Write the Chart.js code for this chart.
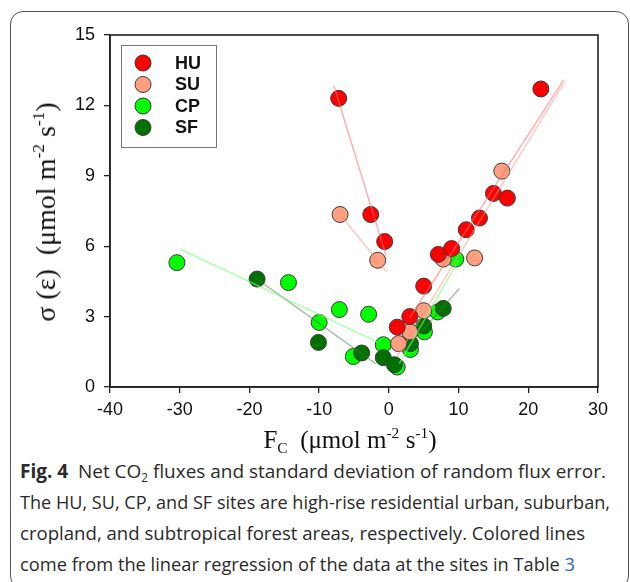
<!DOCTYPE html>
<html>
<head>
<meta charset="utf-8">
<script src="https://cdn.jsdelivr.net/npm/chart.js@4.4.1/dist/chart.umd.min.js"></script>
<style>
  html, body { margin: 0; padding: 0; background: #fff; }
  body { width: 630px; height: 582px; position: relative; overflow: hidden; }
  #frame { position: absolute; left: 10px; top: 11px; width: 619px; height: 578px;
           border: 1.3px solid #555; border-radius: 13px; box-sizing: border-box; }
  #chart { position: absolute; left: 0; top: 0; }
  .ytitle { position: absolute; left: 46px; top: 212px; transform: translate(-50%, -50%) rotate(-90deg);
            font-family: "Liberation Serif", "Times New Roman", serif; font-size: 28px; color: #111; white-space: nowrap; }
  .xtitle { position: absolute; left: 350px; top: 440px; transform: translate(-50%, -50%);
            font-family: "Liberation Serif", "Times New Roman", serif; font-size: 25px; color: #111; white-space: nowrap; }
  sup { font-size: 62%; vertical-align: 0.65em; line-height: 0; }
  sub { font-size: 62%; vertical-align: -0.3em; line-height: 0; }
  .cap { position: absolute; left: 20px; font-family: "Open Sans", sans-serif; font-size: 19px; color: #2a2a2a;
         white-space: nowrap; transform-origin: 0 50%; line-height: 31px; }
  .cap b { font-weight: 700; }
  .cap .ref { color: #2a64c5; }
</style>
</head>
<body>
<div id="frame"></div>
<canvas id="chart" width="630" height="455"></canvas>
<div class="ytitle">σ (ε) &nbsp;(μmol m<sup>-2</sup> s<sup>-1</sup>)</div>
<div class="xtitle">F<sub>C</sub>&nbsp; (μmol m<sup>-2</sup> s<sup>-1</sup>)</div>
<div class="cap" id="cap1" style="top:456px"><b>Fig. 4</b>&nbsp; Net CO<sub>2</sub> fluxes and standard deviation of random flux error.</div>
<div class="cap" id="cap2" style="top:487px">The HU, SU, CP, and SF sites are high-rise residential urban, suburban,</div>
<div class="cap" id="cap3" style="top:518px">cropland, and subtropical forest areas, respectively. Colored lines</div>
<div class="cap" id="cap4" style="top:549px">come from the linear regression of the data at the sites in Table <span class="ref">3</span></div>
<script>
// Site data: net CO2 flux (x) vs sigma of random flux error (y)
const huX = [-7.2, -2.6, -0.6, 1.2, 3.0, 5.0, 7.1, 9.0, 11.1, 13.0, 15.0, 17.0, 21.8];
const huY = [12.3, 7.35, 6.2, 2.55, 3.0, 4.3, 5.65, 5.9, 6.7, 7.2, 8.25, 8.05, 12.7];
const suX = [-7.0, -1.6, 1.4, 3.0, 5.0, 7.8, 12.3, 16.2];
const suY = [7.35, 5.4, 1.85, 2.35, 3.25, 5.45, 5.5, 9.2];
const cpX = [-30.4, -14.4, -10.0, -7.1, -5.1, -2.9, -0.8, 1.2, 3.1, 5.1, 7.0, 9.6];
const cpY = [5.3, 4.45, 2.75, 3.3, 1.3, 3.1, 1.8, 0.85, 1.6, 2.35, 3.2, 5.45];
const sfX = [-18.9, -10.1, -3.9, -0.8, 0.8, 3.1, 5.0, 7.8];
const sfY = [4.6, 1.9, 1.45, 1.25, 0.95, 1.85, 2.6, 3.35];

// Regression line end points (negative and positive flux branches)
const huFitNegX = [-7.9, -0.4], huFitNegY = [12.85, 5.6];
const huFitPosX = [3.0, 25.1], huFitPosY = [2.95, 13.1];
const suFitNegX = [-7.0, -0.3], suFitNegY = [7.35, 4.9];
const suFitPosX = [1.2, 25.2], suFitPosY = [1.3, 13.0];
const cpFitNegX = [-29.9, -1.5], cpFitNegY = [5.87, 1.9];
const cpFitPosX = [1.5, 10.0], cpFitPosY = [1.0, 5.4];
const sfFitNegX = [-18.9, -1.9], sfFitNegY = [4.6, 1.0];
const sfFitPosX = [2.0, 10.1], sfFitPosY = [1.45, 4.2];

const siteNames = ['HU', 'SU', 'CP', 'SF'];
const siteColors = ['#ff0000', '#ff9f80', '#00ff00', '#007000'];
const fitColors = ['rgba(255,110,110,0.55)', 'rgba(255,150,130,0.5)', 'rgba(120,255,120,0.6)', 'rgba(60,120,60,0.45)'];

const xTicks = [-40, -30, -20, -10, 0, 10, 20, 30];
const yTicks = [0, 3, 6, 9, 12, 15];

function pts(xs, ys) {
    return xs.map((x, i) => ({ x: x, y: ys[i] }));
}

function fitSet(xs, ys, color) {
    return {
        type: 'line', data: pts(xs, ys), borderColor: color, borderWidth: 1.5,
        pointRadius: 0, fill: false, showLine: true
    };
}

function siteSet(name, xs, ys, color) {
    return {
        label: name, data: pts(xs, ys), backgroundColor: color, borderColor: '#3c3c3c',
        borderWidth: 1, pointRadius: 8, pointHoverRadius: 8
    };
}

// frame around the plot + legend box
const boxPlugin = {
    id: 'boxPlugin',
    afterDraw(chart) {
        const ctx = chart.ctx;
        const a = chart.chartArea;
        ctx.save();
        ctx.strokeStyle = '#222';
        ctx.lineWidth = 1.6;
        ctx.strokeRect(a.left, a.top, a.right - a.left, a.bottom - a.top);

        const lx = a.left + 11, ly = a.top + 10;
        ctx.fillStyle = '#fff';
        ctx.fillRect(lx, ly, 95, 102);
        ctx.strokeStyle = '#777';
        ctx.lineWidth = 1;
        ctx.strokeRect(lx + 0.5, ly + 0.5, 95, 102);
        ctx.font = 'bold 18px "Liberation Sans", Arial, sans-serif';
        ctx.textBaseline = 'middle';
        siteNames.forEach((name, i) => {
            const cy = ly + 18 + i * 21.5;
            ctx.beginPath();
            ctx.arc(lx + 22, cy, 8, 0, Math.PI * 2);
            ctx.fillStyle = siteColors[i];
            ctx.fill();
            ctx.strokeStyle = '#3c3c3c';
            ctx.lineWidth = 1;
            ctx.stroke();
            ctx.fillStyle = '#111';
            ctx.fillText(name, lx + 54, cy + 1);
        });
        ctx.restore();
    }
};

const ctx = document.getElementById('chart').getContext('2d');
new Chart(ctx, {
    type: 'scatter',
    data: {
        datasets: [
            fitSet(huFitNegX, huFitNegY, fitColors[0]),
            fitSet(huFitPosX, huFitPosY, fitColors[0]),
            fitSet(suFitNegX, suFitNegY, fitColors[1]),
            fitSet(suFitPosX, suFitPosY, fitColors[1]),
            fitSet(cpFitNegX, cpFitNegY, fitColors[2]),
            fitSet(cpFitPosX, cpFitPosY, fitColors[2]),
            fitSet(sfFitNegX, sfFitNegY, fitColors[3]),
            fitSet(sfFitPosX, sfFitPosY, fitColors[3]),
            siteSet('HU', huX, huY, siteColors[0]),
            siteSet('SU', suX, suY, siteColors[1]),
            siteSet('SF', sfX, sfY, siteColors[3]),
            siteSet('CP', cpX, cpY, siteColors[2])
        ]
    },
    options: {
        responsive: false,
        animation: false,
        layout: { padding: { left: 0, top: 35, right: 32, bottom: 0 } },
        plugins: { legend: { display: false }, tooltip: { enabled: false } },
        scales: {
            x: {
                type: 'linear', min: -40, max: 30,
                afterBuildTicks: s => { s.ticks = xTicks.map(v => ({ value: v })); },
                afterFit: s => { s.height = 68; },
                grid: { drawOnChartArea: false, drawTicks: true, tickLength: 6, color: '#222', lineWidth: 1.3 },
                border: { display: true, color: '#222', width: 1.6 },
                ticks: { font: { family: '"Liberation Sans", Arial, sans-serif', size: 18 }, color: '#111',
                         padding: 6, maxRotation: 0, autoSkip: false }
            },
            y: {
                type: 'linear', min: 0, max: 15,
                afterBuildTicks: s => { s.ticks = yTicks.map(v => ({ value: v })); },
                afterFit: s => { s.width = 110; },
                grid: { drawOnChartArea: false, drawTicks: true, tickLength: 6, color: '#222', lineWidth: 1.3 },
                border: { display: true, color: '#222', width: 1.6 },
                ticks: { font: { family: '"Liberation Sans", Arial, sans-serif', size: 18 }, color: '#111',
                         padding: 9, autoSkip: false }
            }
        }
    },
    plugins: [boxPlugin]
});

// squeeze caption lines to the measured widths of the figure text
const capWidths = { cap1: 586, cap2: 590, cap3: 565, cap4: 555 };
Object.keys(capWidths).forEach(id => {
    const el = document.getElementById(id);
    const w = el.getBoundingClientRect().width;
    el.style.transform = 'scaleX(' + (capWidths[id] / w).toFixed(4) + ')';
});
</script>
</body>
</html>
